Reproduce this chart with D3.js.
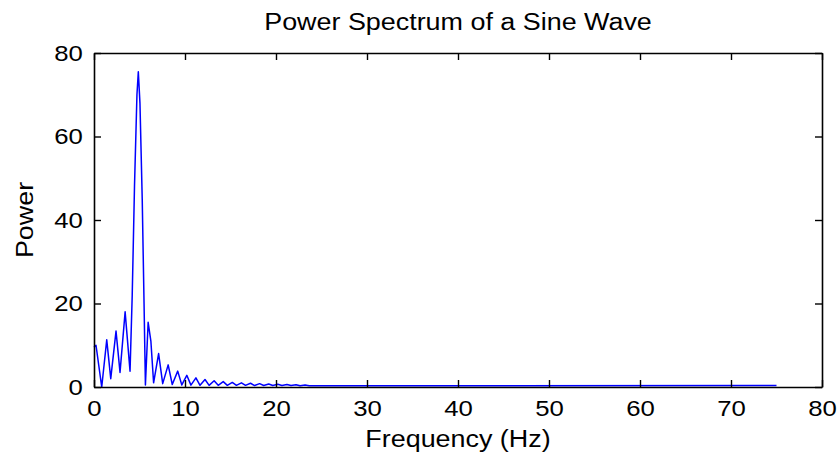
<!DOCTYPE html>
<html>
<head>
<meta charset="utf-8">
<script src="https://cdn.jsdelivr.net/npm/d3@7"></script>
<style>
  body { margin: 0; background: #fff; }
  text { font-family: "Liberation Sans", Arial, sans-serif; fill: #000; }
</style>
</head>
<body>
<svg id="chart" width="839" height="454"></svg>
<script>
// frequency (Hz) and power
let freq = [0, 0.22, 0.85, 1.4, 1.84, 2.42, 2.86, 3.42, 3.96,
            4.2, 4.45, 4.72, 4.87, 5.05, 5.3, 5.5, 5.65,
            5.95, 6.25, 6.55, 7.1, 7.55, 8.15, 8.6, 9.2, 9.65,
            10.2, 10.65, 11.2, 11.65, 12.2, 12.65, 13.2, 13.65, 14.2, 14.65,
            15.2, 15.65, 16.2, 16.65, 17.2, 17.65, 18.2, 18.65, 19.2, 19.65,
            20.2, 20.65, 21.2, 21.65, 22.2, 22.65, 23.2, 23.65, 75];
let power = [9.5, 10, 0, 11.3, 2, 13.4, 3.5, 18, 3.8,
             22, 48, 70, 75.5, 68, 45, 20, 0.5,
             15.5, 11, 1, 8, 0.8, 5.3, 0.6, 3.8, 0.5,
             2.8, 0.45, 2.2, 0.4, 1.8, 0.4, 1.5, 0.4, 1.3, 0.4,
             1.1, 0.4, 1.0, 0.4, 0.9, 0.35, 0.8, 0.35, 0.7, 0.35,
             0.65, 0.35, 0.6, 0.35, 0.55, 0.3, 0.5, 0.3, 0.35];
let xTicks = [0, 10, 20, 30, 40, 50, 60, 70, 80];
let yTicks = [0, 20, 40, 60, 80];

let svg = d3.select("#chart");
let plotLeft = 94, plotRight = 822, plotTop = 53, plotBottom = 387;
let stretch = 1.17; // text in the picture is a bit wide

let x = d3.scaleLinear().domain([0, 80]).range([plotLeft, plotRight]);
let y = d3.scaleLinear().domain([0, 80]).range([plotBottom, plotTop]);

let points = freq.map((f, i) => [f, power[i]]);

let line = d3.line()
  .x(d => x(d[0]))
  .y(d => y(d[1]));

svg.append("path")
  .datum(points)
  .attr("d", line)
  .attr("fill", "none")
  .attr("stroke", "#0000ff")
  .attr("stroke-width", 1.5)
  .attr("stroke-linejoin", "round");

// Axes: ticks point inward, box on all sides
let tick = 7;
let bottomAxis = d3.axisBottom(x).tickValues(xTicks).tickSizeInner(-tick).tickSizeOuter(0).tickPadding(13);
let topAxis = d3.axisTop(x).tickValues(xTicks).tickSizeInner(-tick).tickSizeOuter(0).tickFormat("");
let leftAxis = d3.axisLeft(y).tickValues(yTicks).tickSizeInner(-tick).tickSizeOuter(0).tickPadding(9.5);
let rightAxis = d3.axisRight(y).tickValues(yTicks).tickSizeInner(-tick).tickSizeOuter(0).tickFormat("");

function styleAxis(g) {
  g.select(".domain").attr("stroke", "#000").attr("stroke-width", 1.6);
  g.selectAll(".tick line").attr("stroke", "#000").attr("stroke-width", 1.4);
  g.selectAll(".tick text").attr("font-size", 22).attr("fill", "#000")
    .attr("font-family", "Liberation Sans, Arial, sans-serif")
    .attr("transform", `scale(${stretch},1)`);
}

svg.append("g").attr("transform", `translate(0,${plotBottom})`).call(bottomAxis).call(styleAxis);
svg.append("g").attr("transform", `translate(0,${plotTop})`).call(topAxis).call(styleAxis);
svg.append("g").attr("transform", `translate(${plotLeft},0)`).call(leftAxis).call(styleAxis);
svg.append("g").attr("transform", `translate(${plotRight},0)`).call(rightAxis).call(styleAxis);

// Title and labels
svg.append("text")
  .attr("transform", `translate(${(plotLeft + plotRight) / 2},30) scale(${stretch},1)`)
  .attr("text-anchor", "middle")
  .attr("font-size", 23)
  .text("Power Spectrum of a Sine Wave");

svg.append("text")
  .attr("transform", `translate(${(plotLeft + plotRight) / 2},447) scale(${stretch},1)`)
  .attr("text-anchor", "middle")
  .attr("font-size", 23)
  .text("Frequency (Hz)");

svg.append("text")
  .attr("transform", `translate(33,${(plotTop + plotBottom) / 2}) rotate(-90) scale(${stretch},1)`)
  .attr("text-anchor", "middle")
  .attr("font-size", 23)
  .text("Power");
</script>
</body>
</html>
